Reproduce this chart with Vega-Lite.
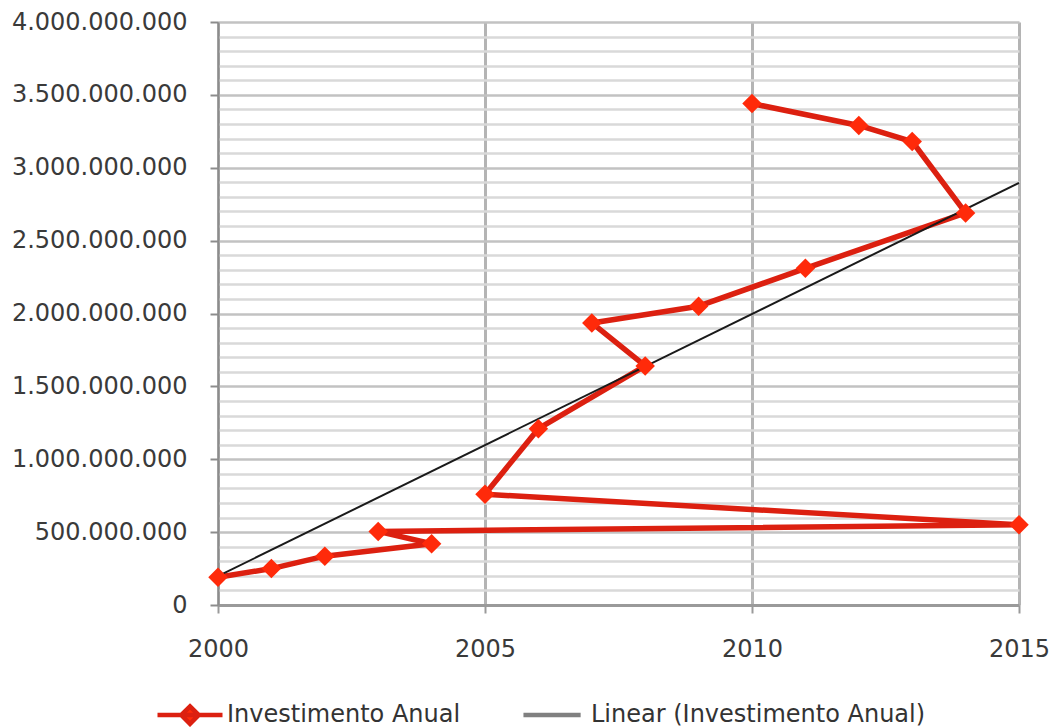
{
  "$schema": "https://vega.github.io/schema/vega-lite/v6.json",
  "width": 801,
  "height": 583,
  "autosize": {"type": "none"},
  "padding": {"left": 218, "top": 22, "right": 33, "bottom": 122},
  "background": "white",
  "data": {
    "values": [
      {"ano": 2000, "valor": 190000000},
      {"ano": 2001, "valor": 250000000},
      {"ano": 2002, "valor": 335000000},
      {"ano": 2003, "valor": 505000000},
      {"ano": 2004, "valor": 420000000},
      {"ano": 2005, "valor": 760000000},
      {"ano": 2006, "valor": 1210000000},
      {"ano": 2007, "valor": 1935000000},
      {"ano": 2008, "valor": 1640000000},
      {"ano": 2009, "valor": 2050000000},
      {"ano": 2010, "valor": 3440000000},
      {"ano": 2011, "valor": 2310000000},
      {"ano": 2012, "valor": 3290000000},
      {"ano": 2013, "valor": 3180000000},
      {"ano": 2014, "valor": 2690000000},
      {"ano": 2015, "valor": 550000000}
    ]
  },
  "encoding": {
    "x": {
      "field": "ano",
      "type": "quantitative",
      "scale": {"domain": [2000, 2015], "nice": false, "zero": false},
      "axis": {
        "title": null,
        "values": [2000, 2005, 2010, 2015],
        "format": "d",
        "labelFlush": false,
        "grid": true,
        "gridColor": "#b4b4b4",
        "gridWidth": 3,
        "domainColor": "#9a9a9a",
        "domainWidth": 3,
        "tickColor": "#9a9a9a",
        "tickWidth": 2,
        "tickSize": 8,
        "labelPadding": 24,
        "zindex": 0
      }
    },
    "y": {
      "field": "valor",
      "type": "quantitative",
      "scale": {"domain": [0, 4000000000], "nice": false},
      "axis": {
        "title": null,
        "values": [0, 100000000, 200000000, 300000000, 400000000, 500000000, 600000000, 700000000, 800000000, 900000000, 1000000000, 1100000000, 1200000000, 1300000000, 1400000000, 1500000000, 1600000000, 1700000000, 1800000000, 1900000000, 2000000000, 2100000000, 2200000000, 2300000000, 2400000000, 2500000000, 2600000000, 2700000000, 2800000000, 2900000000, 3000000000, 3100000000, 3200000000, 3300000000, 3400000000, 3500000000, 3600000000, 3700000000, 3800000000, 3900000000, 4000000000],
        "format": ",d",
        "labelExpr": "datum.value % 500000000 === 0 ? datum.label : ''",
        "labelFlush": false,
        "labelOverlap": false,
        "grid": true,
        "gridColor": {"condition": {"test": "datum.value % 500000000 === 0", "value": "#c2c2c2"}, "value": "#d9d9d9"},
        "gridWidth": 2.5,
        "tickOpacity": {"condition": {"test": "datum.value % 500000000 === 0", "value": 1}, "value": 0},
        "domainColor": "#8c8c8c",
        "domainWidth": 2,
        "tickColor": "#8c8c8c",
        "tickWidth": 2,
        "tickSize": 8,
        "labelPadding": 23,
        "zindex": 0
      }
    }
  },
  "layer": [
    {
      "mark": {"type": "line", "strokeWidth": 5.5, "strokeJoin": "round"},
      "encoding": {
        "order": {"field": "valor", "type": "quantitative"},
        "color": {
          "datum": "Investimento Anual",
          "type": "nominal",
          "scale": {"domain": ["Investimento Anual", "Linear (Investimento Anual)"], "range": ["#dc2010", "#808080"]},
          "legend": {
            "title": null,
            "orient": "none",
            "direction": "horizontal",
            "legendX": -63,
            "legendY": 658,
            "symbolSize": 4225,
            "symbolType": "stroke",
            "symbolStrokeWidth": 4.5,
            "labelOffset": 2,
            "columnPadding": 53,
            "labelFontSize": 24,
            "labelFont": "DejaVu Sans",
            "labelColor": "#333333",
            "labelLimit": 500,
            "encode": {
              "symbols": {
                "update": {
                  "shape": {"signal": "datum.value === 'Investimento Anual' ? 'M-1,0H1M0,-0.27L0.27,0L0,0.27L-0.27,0Z' : 'M-0.94,0H0.82M0,-0.27M0,0.27'"},
                  "fill": {"signal": "datum.value === 'Investimento Anual' ? '#ff2a0a' : 'transparent'"},
                  "strokeWidth": {"value": 4.5},
                  "opacity": {"value": 1}
                }
              }
            }
          }
        }
      }
    },
    {
      "transform": [
        {"regression": "valor", "on": "ano", "extent": [2000, 2015]}
      ],
      "mark": {"type": "line", "strokeWidth": 2, "color": "#1a1a1a"},
      "encoding": {}
    },
    {
      "mark": {"type": "point", "shape": "diamond", "filled": true, "size": 380, "color": "#ff2a0a", "opacity": 1},
      "encoding": {}
    }
  ],
  "config": {
    "locale": {"number": {"decimal": ",", "thousands": ".", "grouping": [3], "currency": ["R$", ""]}},
    "view": {"stroke": null},
    "axis": {"labelFont": "DejaVu Sans", "labelFontSize": 24, "labelColor": "#3a3a3a"}
  }
}
